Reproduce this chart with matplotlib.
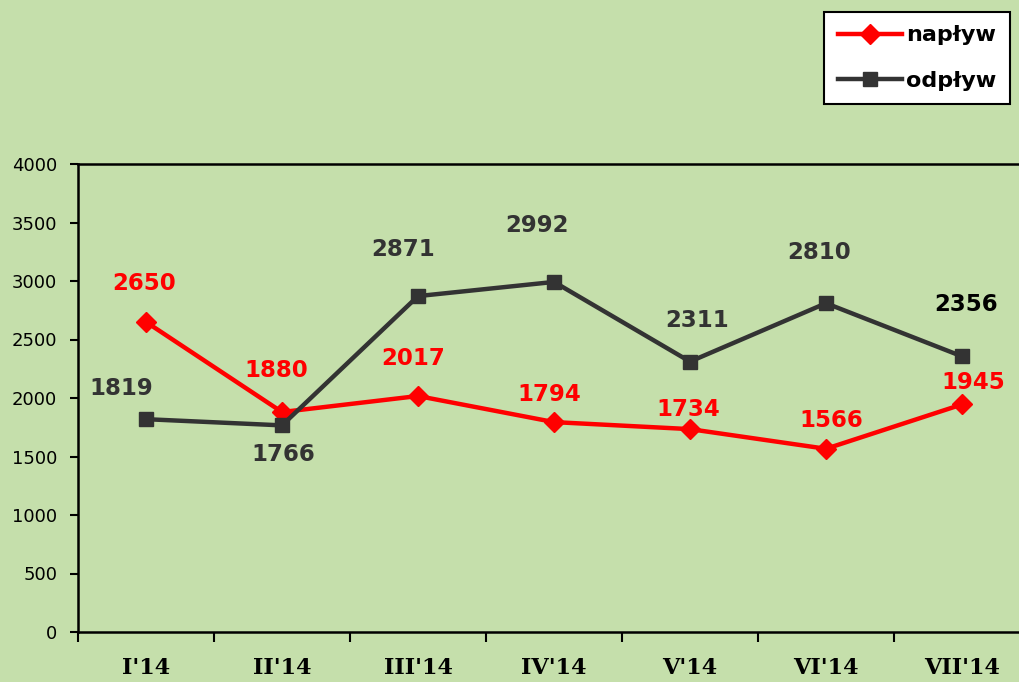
import matplotlib
matplotlib.use("Agg")
import matplotlib.pyplot as plt

months = ["I'14", "II'14", "III'14", "IV'14", "V'14", "VI'14", "VII'14"]
naplyw = [2650, 1880, 2017, 1794, 1734, 1566, 1945]
odplyw = [1819, 1766, 2871, 2992, 2311, 2810, 2356]

# label offsets in pixels (dx, dy) from each point
naplyw_off = [(-2, 38), (-6, 42), (-5, 38), (-5, 28), (-2, 20), (5, 28), (11, 22)]
odplyw_off = [(-25, 31), (1, -29), (-15, 47), (-17, 56), (7, 41), (-7, 51), (4, 52)]
odplyw_colors = ['#333333'] * 6 + ['#000000']

bg = '#C5DFAB'

fig = plt.figure(figsize=(10.19, 6.82), dpi=100, facecolor=bg)
ax = fig.add_axes([78 / 1019, 50 / 682, (1030 - 78) / 1019, (632 - 164) / 682])
ax.set_facecolor(bg)

x = list(range(len(months)))
l1, = ax.plot(x, naplyw, color='#FF0000', lw=3.2, marker='D', ms=10,
              markeredgecolor='#FF0000', label='napływ', zorder=3)
l2, = ax.plot(x, odplyw, color='#333333', lw=3.2, marker='s', ms=9.5,
              markeredgecolor='#333333', label='odpływ', zorder=3)

for i, v in enumerate(naplyw):
    ax.annotate(str(v), (i, v), xytext=naplyw_off[i], textcoords='offset pixels',
                ha='center', va='center', color='#FF0000', fontsize=16.5,
                fontweight='bold', family='DejaVu Sans')
for i, v in enumerate(odplyw):
    ax.annotate(str(v), (i, v), xytext=odplyw_off[i], textcoords='offset pixels',
                ha='center', va='center', color=odplyw_colors[i], fontsize=16.5,
                fontweight='bold', family='DejaVu Sans')

ax.set_xlim(-0.5, 6.5)
ax.set_ylim(0, 4000)
ax.set_yticks(range(0, 4001, 500))
ax.tick_params(axis='y', direction='out', length=6, width=1.5, labelsize=13, pad=9)

ax.set_xticks(x)
ax.set_xticklabels(months, family='DejaVu Serif', fontweight='bold', fontsize=16)
ax.set_xticks([i - 0.5 for i in range(8)], minor=True)
ax.tick_params(axis='x', which='major', length=0, pad=18)
ax.tick_params(axis='x', which='minor', direction='out', length=7, width=1.5)

for s in ['left', 'bottom', 'top']:
    ax.spines[s].set_linewidth(1.8)
    ax.spines[s].set_color('black')
ax.spines['right'].set_visible(False)

leg = fig.legend(handles=[l1, l2], loc='upper right', bbox_to_anchor=(1010 / 1019, 1 - 12 / 682),
                 frameon=True, fancybox=False, edgecolor='black', facecolor='white',
                 framealpha=1, prop={'weight': 'bold', 'size': 16}, handlelength=2.9,
                 borderpad=0.6, labelspacing=1.15, handletextpad=0.2, borderaxespad=0)
leg.get_frame().set_linewidth(1.5)

fig.savefig('out.png', dpi=100, facecolor=bg)
